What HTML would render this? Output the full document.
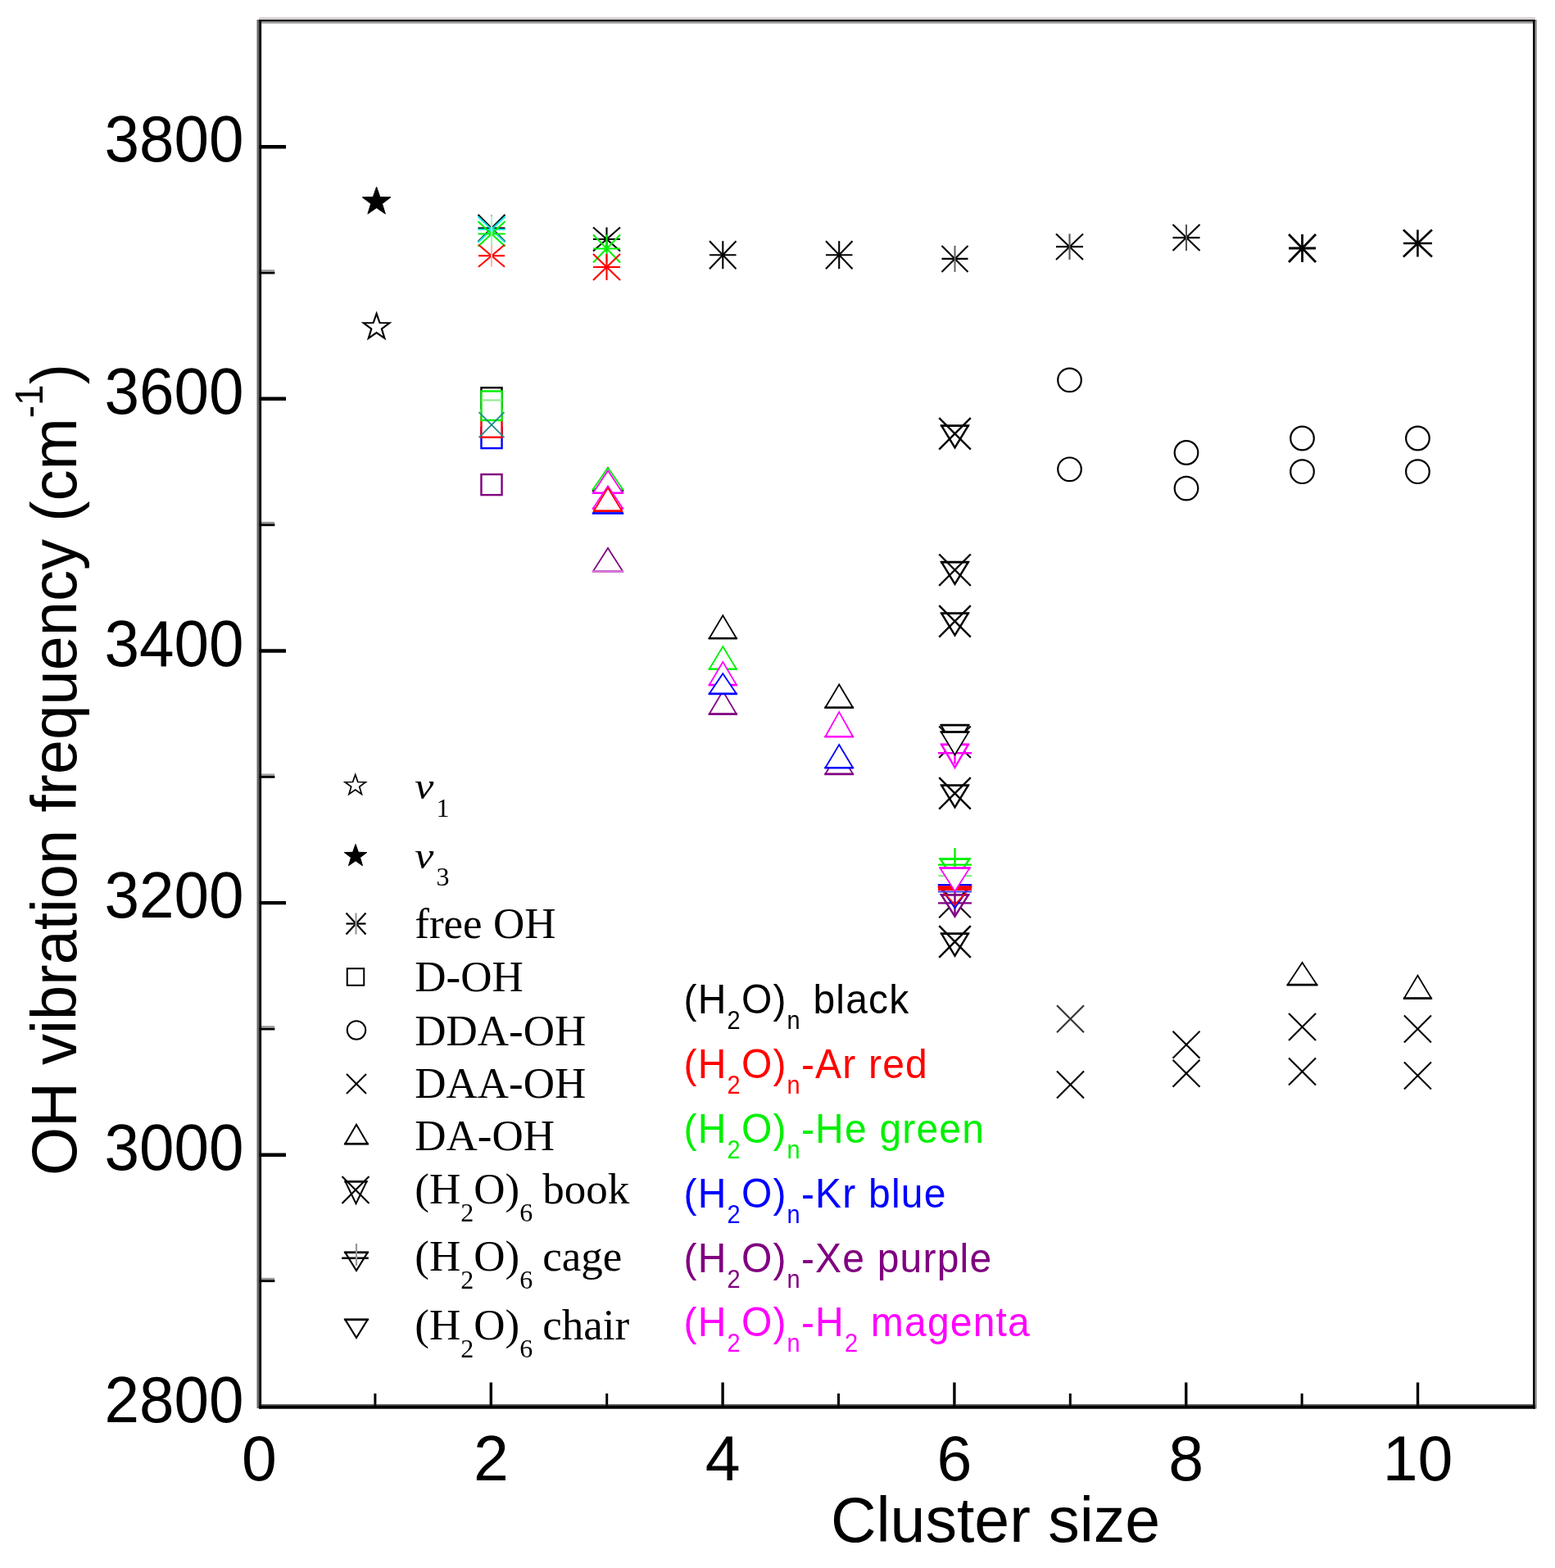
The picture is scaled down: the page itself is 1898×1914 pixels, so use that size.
<!DOCTYPE html>
<html><head><meta charset="utf-8"><title>OH vibration frequency vs cluster size</title>
<style>html,body{margin:0;padding:0;background:#fff;overflow:hidden;}svg{display:block;}</style></head>
<body><svg width="1898" height="1914" viewBox="0 0 1898 1914">
<rect x="0" y="0" width="1898" height="1914" fill="white"/>
<g stroke="#000"><line x1="316.5" y1="1563.6" x2="335.4" y2="1563.6" stroke-width="3"/><line x1="316.5" y1="1561.0" x2="335" y2="1561.0" stroke="#999" stroke-width="2.4"/><line x1="316.5" y1="1409.8" x2="349" y2="1409.8" stroke-width="4.4"/><line x1="316.5" y1="1256.0" x2="335.4" y2="1256.0" stroke-width="3"/><line x1="316.5" y1="1253.4" x2="335" y2="1253.4" stroke="#999" stroke-width="2.4"/><line x1="316.5" y1="1102.1" x2="349" y2="1102.1" stroke-width="4.4"/><line x1="316.5" y1="948.3" x2="335.4" y2="948.3" stroke-width="3"/><line x1="316.5" y1="945.7" x2="335" y2="945.7" stroke="#999" stroke-width="2.4"/><line x1="316.5" y1="794.5" x2="349" y2="794.5" stroke-width="4.4"/><line x1="316.5" y1="640.7" x2="335.4" y2="640.7" stroke-width="3"/><line x1="316.5" y1="638.1" x2="335" y2="638.1" stroke="#999" stroke-width="2.4"/><line x1="316.5" y1="486.8" x2="349" y2="486.8" stroke-width="4.4"/><line x1="316.5" y1="333.0" x2="335.4" y2="333.0" stroke-width="3"/><line x1="316.5" y1="330.4" x2="335" y2="330.4" stroke="#999" stroke-width="2.4"/><line x1="316.5" y1="179.2" x2="349" y2="179.2" stroke-width="4.4"/><line x1="457.9" y1="1717.0" x2="457.9" y2="1701" stroke-width="3"/><line x1="599.3" y1="1717.0" x2="599.3" y2="1687.5" stroke-width="3.4"/><line x1="740.7" y1="1717.0" x2="740.7" y2="1701" stroke-width="3"/><line x1="882.1" y1="1717.0" x2="882.1" y2="1687.5" stroke-width="3.4"/><line x1="1023.5" y1="1717.0" x2="1023.5" y2="1701" stroke-width="3"/><line x1="1164.9" y1="1717.0" x2="1164.9" y2="1687.5" stroke-width="3.4"/><line x1="1306.3" y1="1717.0" x2="1306.3" y2="1701" stroke-width="3"/><line x1="1447.7" y1="1717.0" x2="1447.7" y2="1687.5" stroke-width="3.4"/><line x1="1589.1" y1="1717.0" x2="1589.1" y2="1701" stroke-width="3"/><line x1="1730.5" y1="1717.0" x2="1730.5" y2="1687.5" stroke-width="3.4"/></g>
<rect x="313.5" y="24" width="2.8" height="1695" fill="#6a6a6a"/>
<rect x="316.2" y="24" width="2.9" height="1695.5" fill="#000"/>
<rect x="316" y="21" width="1558" height="3" fill="#d8d0d0"/>
<rect x="316" y="24" width="1558" height="2.5" fill="#000"/>
<rect x="319" y="26.5" width="1552" height="2.2" fill="#9a9a9a"/>
<rect x="1871" y="24" width="2.8" height="1695.5" fill="#000"/>
<rect x="1873.8" y="24" width="2.2" height="1695.5" fill="#a0a0a0"/>
<rect x="316" y="1714.3" width="1558" height="1.2" fill="#222"/>
<rect x="316" y="1715.5" width="1558" height="4.2" fill="#000"/>
<text transform="translate(297.5,1735.5) scale(0.993,1.03)" font-family="'Liberation Sans', Arial, sans-serif" font-size="77" text-anchor="end">2800</text>
<text transform="translate(297.5,1427.8) scale(0.993,1.03)" font-family="'Liberation Sans', Arial, sans-serif" font-size="77" text-anchor="end">3000</text>
<text transform="translate(297.5,1120.1) scale(0.993,1.03)" font-family="'Liberation Sans', Arial, sans-serif" font-size="77" text-anchor="end">3200</text>
<text transform="translate(297.5,812.5) scale(0.993,1.03)" font-family="'Liberation Sans', Arial, sans-serif" font-size="77" text-anchor="end">3400</text>
<text transform="translate(297.5,504.8) scale(0.993,1.03)" font-family="'Liberation Sans', Arial, sans-serif" font-size="77" text-anchor="end">3600</text>
<text transform="translate(297.5,197.2) scale(0.993,1.03)" font-family="'Liberation Sans', Arial, sans-serif" font-size="77" text-anchor="end">3800</text>
<text x="316.5" y="1807.2" font-family="'Liberation Sans', Arial, sans-serif" font-size="77" text-anchor="middle">0</text>
<text x="599.3" y="1807.2" font-family="'Liberation Sans', Arial, sans-serif" font-size="77" text-anchor="middle">2</text>
<text x="882.1" y="1807.2" font-family="'Liberation Sans', Arial, sans-serif" font-size="77" text-anchor="middle">4</text>
<text x="1164.9" y="1807.2" font-family="'Liberation Sans', Arial, sans-serif" font-size="77" text-anchor="middle">6</text>
<text x="1447.7" y="1807.2" font-family="'Liberation Sans', Arial, sans-serif" font-size="77" text-anchor="middle">8</text>
<text x="1730.5" y="1807.2" font-family="'Liberation Sans', Arial, sans-serif" font-size="77" text-anchor="middle">10</text>
<text x="1215" y="1882" font-family="'Liberation Sans', Arial, sans-serif" font-size="77" text-anchor="middle">Cluster size</text>
<text transform="translate(92.5,939.5) rotate(-90) scale(1,1.035)" font-family="'Liberation Sans', Arial, sans-serif" font-size="76" text-anchor="middle">OH vibration frequency (cm<tspan font-size="46" dy="-39.5">-1</tspan><tspan dy="39.5">)</tspan></text>
<polygon points="433.70,945.60 436.80,954.53 446.25,954.72 438.72,960.43 441.46,969.48 433.70,964.08 425.94,969.48 428.68,960.43 421.15,954.72 430.60,954.53" fill="white" stroke="#000" stroke-width="1.7" stroke-linejoin="miter"/>
<polygon points="434.00,1030.50 437.41,1040.31 447.79,1040.52 439.52,1046.79 442.52,1056.73 434.00,1050.80 425.48,1056.73 428.48,1046.79 420.21,1040.52 430.59,1040.31" fill="#000" stroke="#000" stroke-width="1"/>
<text transform="translate(506.3,974.5) scale(1,0.91)" font-family="'Liberation Serif', 'Times New Roman', serif" font-size="52" font-style="italic">ν</text>
<text x="532.5" y="997" font-family="'Liberation Serif', 'Times New Roman', serif" font-size="32">1</text>
<text transform="translate(506.3,1059.5) scale(1,0.91)" font-family="'Liberation Serif', 'Times New Roman', serif" font-size="52" font-style="italic">ν</text>
<text x="532.5" y="1081" font-family="'Liberation Serif', 'Times New Roman', serif" font-size="32">3</text>
<g stroke="#000" stroke-width="2.2" fill="none"><line x1="422.5" y1="1127.5" x2="446.5" y2="1127.5"/><line x1="422.5" y1="1114.5" x2="446.5" y2="1140.5"/><line x1="422.5" y1="1140.5" x2="446.5" y2="1114.5"/><line x1="434.5" y1="1114.5" x2="434.5" y2="1140.5" stroke="#999"/></g>
<text x="506.3" y="1144.5" font-family="'Liberation Serif', 'Times New Roman', serif" font-size="53">free OH</text>
<rect x="423.75" y="1182.25" width="20.50" height="20.50" fill="white" stroke="#000" stroke-width="2.0"/>
<text x="506.3" y="1210" font-family="'Liberation Serif', 'Times New Roman', serif" font-size="53">D-OH</text>
<circle cx="435.00" cy="1257.50" r="11.25" fill="white" stroke="#000" stroke-width="2.0"/>
<text x="506.3" y="1275.5" font-family="'Liberation Serif', 'Times New Roman', serif" font-size="53">DDA-OH</text>
<g stroke="#000" stroke-width="2.0"><line x1="423.0" y1="1311.0" x2="447.0" y2="1335.0"/><line x1="423.0" y1="1335.0" x2="447.0" y2="1311.0"/></g>
<text x="506.3" y="1340" font-family="'Liberation Serif', 'Times New Roman', serif" font-size="53">DAA-OH</text>
<polygon points="435.00,1372.80 448.75,1396.20 421.25,1396.20" fill="white" stroke="#000" stroke-width="2.0" stroke-linejoin="miter"/>
<line x1="420.25" y1="1396.20" x2="449.75" y2="1396.20" stroke="#000" stroke-width="2.6"/>
<text x="506.3" y="1404" font-family="'Liberation Serif', 'Times New Roman', serif" font-size="53">DA-OH</text>
<g stroke="#000" stroke-width="2.2"><line x1="417.5" y1="1436.0" x2="450.5" y2="1469.0"/><line x1="417.5" y1="1469.0" x2="450.5" y2="1436.0"/></g>
<polygon points="421.50,1442.30 447.50,1442.30 434.50,1469.20" fill="none" stroke="#000" stroke-width="2.0" stroke-linejoin="miter"/>
<line x1="420.50" y1="1442.30" x2="448.50" y2="1442.30" stroke="#000" stroke-width="2.6"/>
<text x="506.3" y="1469" font-family="'Liberation Serif', 'Times New Roman', serif" font-size="53">(H<tspan font-size="32" dy="22">2</tspan><tspan dy="-22">O)</tspan><tspan font-size="32" dy="22">6</tspan><tspan dy="-22" dx="12">book</tspan></text>
<polygon points="421.35,1528.80 448.65,1528.80 435.00,1551.02" fill="white" stroke="#000" stroke-width="2.2" stroke-linejoin="miter"/>
<line x1="420.25" y1="1528.80" x2="449.75" y2="1528.80" stroke="#000" stroke-width="2.6"/>
<line x1="417.2" y1="1535.8" x2="449.8" y2="1535.8" stroke="#000" stroke-width="2.4"/>
<line x1="435" y1="1518" x2="435" y2="1545" stroke="#999" stroke-width="2.2"/>
<text x="506.3" y="1551" font-family="'Liberation Serif', 'Times New Roman', serif" font-size="53">(H<tspan font-size="32" dy="22">2</tspan><tspan dy="-22">O)</tspan><tspan font-size="32" dy="22">6</tspan><tspan dy="-22" dx="12">cage</tspan></text>
<polygon points="421.35,1610.80 448.65,1610.80 435.00,1633.02" fill="white" stroke="#000" stroke-width="2.2" stroke-linejoin="miter"/>
<line x1="420.25" y1="1610.80" x2="449.75" y2="1610.80" stroke="#000" stroke-width="2.6"/>
<text x="506.3" y="1635" font-family="'Liberation Serif', 'Times New Roman', serif" font-size="53">(H<tspan font-size="32" dy="22">2</tspan><tspan dy="-22">O)</tspan><tspan font-size="32" dy="22">6</tspan><tspan dy="-22" dx="12">chair</tspan></text>
<text transform="translate(834.5,1237) scale(1,1.05)" font-family="'Liberation Sans', Arial, sans-serif" font-size="48" letter-spacing="1.2" fill="#000">(H<tspan font-size="29" dy="18">2</tspan><tspan dy="-18">O)</tspan><tspan font-size="29" dy="18">n</tspan><tspan dy="-18"> black</tspan></text>
<text transform="translate(834.5,1316) scale(1,1.05)" font-family="'Liberation Sans', Arial, sans-serif" font-size="48" letter-spacing="1.2" fill="#ff0000">(H<tspan font-size="29" dy="18">2</tspan><tspan dy="-18">O)</tspan><tspan font-size="29" dy="18">n</tspan><tspan dy="-18">-Ar red</tspan></text>
<text transform="translate(834.5,1395) scale(1,1.05)" font-family="'Liberation Sans', Arial, sans-serif" font-size="48" letter-spacing="1.2" fill="#00f000">(H<tspan font-size="29" dy="18">2</tspan><tspan dy="-18">O)</tspan><tspan font-size="29" dy="18">n</tspan><tspan dy="-18">-He green</tspan></text>
<text transform="translate(834.5,1474) scale(1,1.05)" font-family="'Liberation Sans', Arial, sans-serif" font-size="48" letter-spacing="1.2" fill="#0000ff">(H<tspan font-size="29" dy="18">2</tspan><tspan dy="-18">O)</tspan><tspan font-size="29" dy="18">n</tspan><tspan dy="-18">-Kr blue</tspan></text>
<text transform="translate(834.5,1553) scale(1,1.05)" font-family="'Liberation Sans', Arial, sans-serif" font-size="48" letter-spacing="1.2" fill="#800080">(H<tspan font-size="29" dy="18">2</tspan><tspan dy="-18">O)</tspan><tspan font-size="29" dy="18">n</tspan><tspan dy="-18">-Xe purple</tspan></text>
<text transform="translate(834.5,1631) scale(1,1.05)" font-family="'Liberation Sans', Arial, sans-serif" font-size="48" letter-spacing="1.2" fill="#ff00ff">(H<tspan font-size="29" dy="18">2</tspan><tspan dy="-18">O)</tspan><tspan font-size="29" dy="18">n</tspan><tspan dy="-18">-H</tspan><tspan font-size="29" dy="18">2</tspan><tspan dy="-18"> magenta</tspan></text>
<polygon points="459.60,228.20 463.88,240.51 476.91,240.78 466.52,248.65 470.30,261.12 459.60,253.68 448.90,261.12 452.68,248.65 442.29,240.78 455.32,240.51" fill="#000" stroke="#000" stroke-width="1"/>
<polygon points="459.60,382.80 463.50,394.03 475.39,394.27 465.92,401.45 469.36,412.83 459.60,406.04 449.84,412.83 453.28,401.45 443.81,394.27 455.70,394.03" fill="white" stroke="#000" stroke-width="2.2" stroke-linejoin="miter"/>
<g stroke="#000" stroke-width="2.1" fill="none"><line x1="583.5" y1="278.5" x2="616.5" y2="278.5"/><line x1="583.5" y1="262.0" x2="616.5" y2="295.0"/><line x1="583.5" y1="295.0" x2="616.5" y2="262.0"/><line x1="600.0" y1="262.0" x2="600.0" y2="295.0" stroke="#bbb"/></g>
<g stroke="#00e6e6" stroke-width="2.1" fill="none"><line x1="583.5" y1="280.0" x2="616.5" y2="280.0"/><line x1="583.5" y1="264.2" x2="616.5" y2="295.8"/><line x1="583.5" y1="295.8" x2="616.5" y2="264.2"/><line x1="600.0" y1="264.2" x2="600.0" y2="295.8" stroke="#b8eeee"/></g>
<g stroke="#00f000" stroke-width="2.1" fill="none"><line x1="583.5" y1="285.5" x2="616.5" y2="285.5"/><line x1="583.5" y1="270.3" x2="616.5" y2="300.7"/><line x1="583.5" y1="300.7" x2="616.5" y2="270.3"/><line x1="600.0" y1="270.3" x2="600.0" y2="300.7" stroke="#b0f0b0"/></g>
<g stroke="#ff0000" stroke-width="2.1" fill="none"><line x1="584.0" y1="312.2" x2="616.0" y2="312.2"/><line x1="584.0" y1="298.7" x2="616.0" y2="325.7"/><line x1="584.0" y1="325.7" x2="616.0" y2="298.7"/><line x1="600.0" y1="298.7" x2="600.0" y2="325.7" stroke="#f8b8b8"/></g>
<rect x="587.45" y="522.05" width="25.10" height="25.10" fill="white" stroke="#0000ff" stroke-width="2.4"/>
<rect x="587.45" y="508.65" width="25.10" height="25.10" fill="white" stroke="#ff0000" stroke-width="2.4"/>
<rect x="587.45" y="473.25" width="25.10" height="25.10" fill="white" stroke="#000" stroke-width="2.4"/>
<rect x="587.5" y="477.5" width="25.1" height="35.5" fill="white" stroke="#00f000" stroke-width="2.4"/>
<line x1="587.5" y1="488.5" x2="612.5" y2="488.5" stroke="#90ee90" stroke-width="2.2"/>
<g stroke="#1a8a8a" stroke-width="1.8"><line x1="584.5" y1="503.1" x2="615.5" y2="534.1"/><line x1="584.5" y1="534.1" x2="615.5" y2="503.1"/></g>
<rect x="587.45" y="579.05" width="25.10" height="25.10" fill="white" stroke="#800080" stroke-width="2.4"/>
<g stroke="#000" stroke-width="2.1" fill="none"><line x1="724.0" y1="292.0" x2="757.0" y2="292.0"/><line x1="724.0" y1="277.5" x2="757.0" y2="306.5"/><line x1="724.0" y1="306.5" x2="757.0" y2="277.5"/><line x1="740.5" y1="277.5" x2="740.5" y2="306.5" stroke="#000"/></g>
<g stroke="#00f000" stroke-width="2.1" fill="none"><line x1="724.0" y1="303.5" x2="757.0" y2="303.5"/><line x1="724.0" y1="286.5" x2="757.0" y2="320.5"/><line x1="724.0" y1="320.5" x2="757.0" y2="286.5"/><line x1="740.5" y1="286.5" x2="740.5" y2="320.5" stroke="#00f000"/></g>
<g stroke="#ff0000" stroke-width="2.1" fill="none"><line x1="724.0" y1="326.0" x2="757.0" y2="326.0"/><line x1="724.0" y1="310.0" x2="757.0" y2="342.0"/><line x1="724.0" y1="342.0" x2="757.0" y2="310.0"/><line x1="740.5" y1="310.0" x2="740.5" y2="342.0" stroke="#ff0000"/></g>
<polygon points="742.00,571.12 760.10,598.70 723.90,598.70" fill="white" stroke="#000" stroke-width="1.8" stroke-linejoin="miter"/>
<line x1="723.00" y1="598.70" x2="761.00" y2="598.70" stroke="#000" stroke-width="2.6"/>
<polygon points="742.00,571.02 760.10,597.20 723.90,597.20" fill="white" stroke="#00f000" stroke-width="1.8" stroke-linejoin="miter"/>
<line x1="723.00" y1="597.20" x2="761.00" y2="597.20" stroke="#00f000" stroke-width="2.6"/>
<polygon points="742.00,574.42 760.10,601.80 723.90,601.80" fill="white" stroke="#ff00ff" stroke-width="1.8" stroke-linejoin="miter"/>
<line x1="723.00" y1="601.80" x2="761.00" y2="601.80" stroke="#ff00ff" stroke-width="2.6"/>
<polygon points="742.00,598.62 760.10,626.50 723.90,626.50" fill="white" stroke="#0000ff" stroke-width="1.8" stroke-linejoin="miter"/>
<line x1="723.00" y1="626.50" x2="761.00" y2="626.50" stroke="#0000ff" stroke-width="2.6"/>
<polygon points="742.00,593.32 760.10,620.70 723.90,620.70" fill="white" stroke="#ff00ff" stroke-width="1.8" stroke-linejoin="miter"/>
<line x1="723.00" y1="620.70" x2="761.00" y2="620.70" stroke="#ff00ff" stroke-width="2.6"/>
<polygon points="742.00,595.62 759.10,623.70 724.90,623.70" fill="white" stroke="#ff0000" stroke-width="1.8" stroke-linejoin="miter"/>
<line x1="724.00" y1="623.70" x2="760.00" y2="623.70" stroke="#ff0000" stroke-width="2.6"/>
<polygon points="742.00,668.92 760.10,697.30 723.90,697.30" fill="white" stroke="#800080" stroke-width="1.8" stroke-linejoin="miter"/>
<line x1="723.00" y1="697.30" x2="761.00" y2="697.30" stroke="#800080" stroke-width="2.6"/>
<line x1="723" y1="697.4" x2="761" y2="697.4" stroke="#e07ee0" stroke-width="2.4"/>
<g stroke="#000" stroke-width="2.1" fill="none"><line x1="866.0" y1="311.2" x2="898.5" y2="311.2"/><line x1="866.0" y1="294.2" x2="898.5" y2="328.2"/><line x1="866.0" y1="328.2" x2="898.5" y2="294.2"/><line x1="882.3" y1="294.2" x2="882.3" y2="328.2" stroke="#000"/></g>
<polygon points="882.30,751.22 898.90,779.20 865.70,779.20" fill="white" stroke="#000" stroke-width="1.8" stroke-linejoin="miter"/>
<line x1="864.80" y1="779.20" x2="899.80" y2="779.20" stroke="#000" stroke-width="2.6"/>
<polygon points="882.30,789.22 898.90,816.80 865.70,816.80" fill="white" stroke="#00f000" stroke-width="1.8" stroke-linejoin="miter"/>
<line x1="864.80" y1="816.80" x2="899.80" y2="816.80" stroke="#00f000" stroke-width="2.6"/>
<polygon points="882.30,843.62 898.90,871.60 865.70,871.60" fill="white" stroke="#800080" stroke-width="1.8" stroke-linejoin="miter"/>
<line x1="864.80" y1="871.60" x2="899.80" y2="871.60" stroke="#800080" stroke-width="2.6"/>
<polygon points="882.30,808.02 898.90,836.10 865.70,836.10" fill="white" stroke="#ff00ff" stroke-width="1.8" stroke-linejoin="miter"/>
<line x1="864.80" y1="836.10" x2="899.80" y2="836.10" stroke="#ff00ff" stroke-width="2.6"/>
<polygon points="882.30,822.22 898.90,846.90 865.70,846.90" fill="white" stroke="#0000ff" stroke-width="1.8" stroke-linejoin="miter"/>
<line x1="864.80" y1="846.90" x2="899.80" y2="846.90" stroke="#0000ff" stroke-width="2.6"/>
<g stroke="#000" stroke-width="2.1" fill="none"><line x1="1008.0" y1="311.2" x2="1040.5" y2="311.2"/><line x1="1008.0" y1="294.2" x2="1040.5" y2="328.2"/><line x1="1008.0" y1="328.2" x2="1040.5" y2="294.2"/><line x1="1024.2" y1="294.2" x2="1024.2" y2="328.2" stroke="#000"/></g>
<polygon points="1024.20,835.52 1041.05,863.70 1007.35,863.70" fill="white" stroke="#000" stroke-width="1.8" stroke-linejoin="miter"/>
<line x1="1006.45" y1="863.70" x2="1041.95" y2="863.70" stroke="#000" stroke-width="2.6"/>
<polygon points="1024.20,869.12 1041.05,899.20 1007.35,899.20" fill="white" stroke="#ff00ff" stroke-width="1.8" stroke-linejoin="miter"/>
<line x1="1006.45" y1="899.20" x2="1041.95" y2="899.20" stroke="#ff00ff" stroke-width="2.6"/>
<polygon points="1024.20,916.62 1041.05,944.90 1007.35,944.90" fill="white" stroke="#800080" stroke-width="1.8" stroke-linejoin="miter"/>
<line x1="1006.45" y1="944.90" x2="1041.95" y2="944.90" stroke="#800080" stroke-width="2.6"/>
<polygon points="1024.20,909.02 1041.05,937.20 1007.35,937.20" fill="white" stroke="#0000ff" stroke-width="1.8" stroke-linejoin="miter"/>
<line x1="1006.45" y1="937.20" x2="1041.95" y2="937.20" stroke="#0000ff" stroke-width="2.6"/>
<g stroke="#000" stroke-width="2.1" fill="none"><line x1="1149.5" y1="315.9" x2="1181.5" y2="315.9"/><line x1="1149.5" y1="299.9" x2="1181.5" y2="331.9"/><line x1="1149.5" y1="331.9" x2="1181.5" y2="299.9"/><line x1="1165.5" y1="299.9" x2="1165.5" y2="331.9" stroke="#666"/></g>
<g stroke="#000" stroke-width="2.4"><line x1="1146.2" y1="510.1" x2="1184.8" y2="548.6"/><line x1="1146.2" y1="548.6" x2="1184.8" y2="510.1"/></g>
<polygon points="1149.20,519.70 1181.80,519.70 1165.50,546.49" fill="none" stroke="#000" stroke-width="2.4" stroke-linejoin="miter"/>
<line x1="1148.00" y1="519.70" x2="1183.00" y2="519.70" stroke="#000" stroke-width="2.6"/>
<g stroke="#000" stroke-width="2.4"><line x1="1146.2" y1="676.5" x2="1184.8" y2="715.0"/><line x1="1146.2" y1="715.0" x2="1184.8" y2="676.5"/></g>
<polygon points="1149.20,686.10 1181.80,686.10 1165.50,712.89" fill="none" stroke="#000" stroke-width="2.4" stroke-linejoin="miter"/>
<line x1="1148.00" y1="686.10" x2="1183.00" y2="686.10" stroke="#000" stroke-width="2.6"/>
<g stroke="#000" stroke-width="2.4"><line x1="1146.2" y1="739.1" x2="1184.8" y2="777.6"/><line x1="1146.2" y1="777.6" x2="1184.8" y2="739.1"/></g>
<polygon points="1149.20,748.70 1181.80,748.70 1165.50,775.49" fill="none" stroke="#000" stroke-width="2.4" stroke-linejoin="miter"/>
<line x1="1148.00" y1="748.70" x2="1183.00" y2="748.70" stroke="#000" stroke-width="2.6"/>
<g stroke="#000" stroke-width="2.1"><line x1="1146.2" y1="886.5" x2="1184.8" y2="925.0"/><line x1="1146.2" y1="925.0" x2="1184.8" y2="886.5"/></g>
<polygon points="1149.20,908.90 1181.80,908.90 1165.50,936.84" fill="white" stroke="#ff00ff" stroke-width="2.4" stroke-linejoin="miter"/>
<line x1="1148.00" y1="908.90" x2="1183.00" y2="908.90" stroke="#ff00ff" stroke-width="2.6"/>
<line x1="1145.0" y1="919.3" x2="1186.0" y2="919.3" stroke="#ff00ff" stroke-width="2.4"/>
<line x1="1165.5" y1="895.6" x2="1165.5" y2="932.6" stroke="#ff00ff" stroke-width="2.4"/>
<polygon points="1148.65,885.10 1182.35,885.10 1165.50,912.88" fill="white" stroke="#000" stroke-width="1.8" stroke-linejoin="miter"/>
<line x1="1147.75" y1="885.10" x2="1183.25" y2="885.10" stroke="#000" stroke-width="2.6"/>
<polygon points="1148.65,893.50 1182.35,893.50 1165.50,921.38" fill="white" stroke="#000" stroke-width="1.8" stroke-linejoin="miter"/>
<line x1="1147.75" y1="893.50" x2="1183.25" y2="893.50" stroke="#000" stroke-width="2.6"/>
<g stroke="#000" stroke-width="2.4"><line x1="1146.2" y1="949.1" x2="1184.8" y2="987.6"/><line x1="1146.2" y1="987.6" x2="1184.8" y2="949.1"/></g>
<polygon points="1149.20,958.70 1181.80,958.70 1165.50,985.49" fill="none" stroke="#000" stroke-width="2.4" stroke-linejoin="miter"/>
<line x1="1148.00" y1="958.70" x2="1183.00" y2="958.70" stroke="#000" stroke-width="2.6"/>
<g stroke="#000" stroke-width="2.1"><line x1="1146.2" y1="1081.8" x2="1184.8" y2="1120.2"/><line x1="1146.2" y1="1120.2" x2="1184.8" y2="1081.8"/></g>
<polygon points="1148.95,1092.20 1182.05,1092.20 1165.50,1118.74" fill="white" stroke="#800080" stroke-width="2.4" stroke-linejoin="miter"/>
<line x1="1147.75" y1="1092.20" x2="1183.25" y2="1092.20" stroke="#800080" stroke-width="2.6"/>
<line x1="1145.0" y1="1102.4" x2="1186.0" y2="1102.4" stroke="#800080" stroke-width="2.4"/>
<line x1="1165.5" y1="1078.9" x2="1165.5" y2="1115.9" stroke="#800080" stroke-width="2.4"/>
<polygon points="1145.90,1080.30 1185.10,1080.30 1165.50,1108.38" fill="none" stroke="#0000ff" stroke-width="1.8" stroke-linejoin="miter"/>
<line x1="1145.00" y1="1080.30" x2="1186.00" y2="1080.30" stroke="#0000ff" stroke-width="2.6"/>
<polygon points="1145.90,1082.80 1185.10,1082.80 1165.50,1104.38" fill="none" stroke="#ff0000" stroke-width="1.8" stroke-linejoin="miter"/>
<line x1="1145.00" y1="1082.80" x2="1186.00" y2="1082.80" stroke="#ff0000" stroke-width="2.6"/>
<rect x="1145.0" y="1081.7" width="41" height="5.3" fill="#ff0000"/>
<line x1="1145.0" y1="1088.6" x2="1186.0" y2="1088.6" stroke="#4040ff" stroke-width="2"/>
<polygon points="1147.70,1048.50 1183.30,1048.50 1165.50,1076.04" fill="white" stroke="#00f000" stroke-width="2.4" stroke-linejoin="miter"/>
<line x1="1146.50" y1="1048.50" x2="1184.50" y2="1048.50" stroke="#00f000" stroke-width="2.6"/>
<line x1="1145.0" y1="1055.6" x2="1186.0" y2="1055.6" stroke="#00f000" stroke-width="2.4"/>
<line x1="1165.5" y1="1035.2" x2="1165.5" y2="1072.2" stroke="#00f000" stroke-width="2.4"/>
<line x1="1145.5" y1="1069.2" x2="1186.5" y2="1069.2" stroke="#80f080" stroke-width="2.2"/>
<polygon points="1147.40,1059.50 1183.60,1059.50 1165.50,1087.88" fill="white" stroke="#ff00ff" stroke-width="1.8" stroke-linejoin="miter"/>
<line x1="1146.50" y1="1059.50" x2="1184.50" y2="1059.50" stroke="#ff00ff" stroke-width="2.6"/>
<g stroke="#000" stroke-width="2.4"><line x1="1146.2" y1="1130.2" x2="1184.8" y2="1168.8"/><line x1="1146.2" y1="1168.8" x2="1184.8" y2="1130.2"/></g>
<polygon points="1149.20,1139.80 1181.80,1139.80 1165.50,1166.59" fill="none" stroke="#000" stroke-width="2.4" stroke-linejoin="miter"/>
<line x1="1148.00" y1="1139.80" x2="1183.00" y2="1139.80" stroke="#000" stroke-width="2.6"/>
<g stroke="#000" stroke-width="2.1" fill="none"><line x1="1289.0" y1="301.1" x2="1322.0" y2="301.1"/><line x1="1289.0" y1="285.4" x2="1322.0" y2="316.9"/><line x1="1289.0" y1="316.9" x2="1322.0" y2="285.4"/><line x1="1305.5" y1="285.4" x2="1305.5" y2="316.9" stroke="#555"/></g>
<circle cx="1305.50" cy="463.90" r="14.30" fill="white" stroke="#000" stroke-width="2.2"/>
<circle cx="1305.50" cy="572.80" r="14.30" fill="white" stroke="#000" stroke-width="2.2"/>
<g stroke="#333" stroke-width="2.1"><line x1="1290.0" y1="1227.2" x2="1323.0" y2="1260.2"/><line x1="1290.0" y1="1260.2" x2="1323.0" y2="1227.2"/></g>
<g stroke="#000" stroke-width="2.1"><line x1="1290.0" y1="1307.5" x2="1323.0" y2="1340.5"/><line x1="1290.0" y1="1340.5" x2="1323.0" y2="1307.5"/></g>
<g stroke="#000" stroke-width="2.1" fill="none"><line x1="1431.5" y1="290.1" x2="1464.5" y2="290.1"/><line x1="1431.5" y1="274.1" x2="1464.5" y2="306.1"/><line x1="1431.5" y1="306.1" x2="1464.5" y2="274.1"/><line x1="1448.0" y1="274.1" x2="1448.0" y2="306.1" stroke="#555"/></g>
<circle cx="1448.00" cy="552.50" r="14.30" fill="white" stroke="#000" stroke-width="2.2"/>
<circle cx="1448.00" cy="596.10" r="14.30" fill="white" stroke="#000" stroke-width="2.2"/>
<g stroke="#000" stroke-width="2.1"><line x1="1431.5" y1="1258.7" x2="1464.5" y2="1291.7"/><line x1="1431.5" y1="1291.7" x2="1464.5" y2="1258.7"/></g>
<g stroke="#000" stroke-width="2.1"><line x1="1431.5" y1="1293.8" x2="1464.5" y2="1326.8"/><line x1="1431.5" y1="1326.8" x2="1464.5" y2="1293.8"/></g>
<g stroke="#000" stroke-width="2.8" fill="none"><line x1="1573.0" y1="303.0" x2="1606.0" y2="303.0"/><line x1="1573.0" y1="286.0" x2="1606.0" y2="320.0"/><line x1="1573.0" y1="320.0" x2="1606.0" y2="286.0"/><line x1="1589.5" y1="286.0" x2="1589.5" y2="320.0" stroke="#000"/></g>
<circle cx="1589.50" cy="535.00" r="14.30" fill="white" stroke="#000" stroke-width="2.2"/>
<circle cx="1589.50" cy="575.70" r="14.30" fill="white" stroke="#000" stroke-width="2.2"/>
<polygon points="1589.50,1174.92 1607.35,1202.10 1571.65,1202.10" fill="white" stroke="#000" stroke-width="1.8" stroke-linejoin="miter"/>
<line x1="1570.75" y1="1202.10" x2="1608.25" y2="1202.10" stroke="#000" stroke-width="2.6"/>
<g stroke="#000" stroke-width="2.1"><line x1="1573.0" y1="1237.1" x2="1606.0" y2="1270.1"/><line x1="1573.0" y1="1270.1" x2="1606.0" y2="1237.1"/></g>
<g stroke="#000" stroke-width="2.1"><line x1="1573.0" y1="1291.6" x2="1606.0" y2="1324.6"/><line x1="1573.0" y1="1324.6" x2="1606.0" y2="1291.6"/></g>
<g stroke="#000" stroke-width="2.6" fill="none"><line x1="1712.9" y1="297.0" x2="1747.9" y2="297.0"/><line x1="1712.9" y1="280.5" x2="1747.9" y2="313.5"/><line x1="1712.9" y1="313.5" x2="1747.9" y2="280.5"/><line x1="1730.4" y1="280.5" x2="1730.4" y2="313.5" stroke="#000"/></g>
<circle cx="1730.40" cy="535.00" r="14.30" fill="white" stroke="#000" stroke-width="2.2"/>
<circle cx="1730.40" cy="575.70" r="14.30" fill="white" stroke="#000" stroke-width="2.2"/>
<polygon points="1730.40,1190.82 1747.00,1218.60 1713.80,1218.60" fill="white" stroke="#000" stroke-width="1.8" stroke-linejoin="miter"/>
<line x1="1712.90" y1="1218.60" x2="1747.90" y2="1218.60" stroke="#000" stroke-width="2.6"/>
<g stroke="#000" stroke-width="2.1"><line x1="1713.9" y1="1239.5" x2="1746.9" y2="1272.5"/><line x1="1713.9" y1="1272.5" x2="1746.9" y2="1239.5"/></g>
<g stroke="#000" stroke-width="2.1"><line x1="1713.9" y1="1296.5" x2="1746.9" y2="1329.5"/><line x1="1713.9" y1="1329.5" x2="1746.9" y2="1296.5"/></g>
</svg></body></html>
